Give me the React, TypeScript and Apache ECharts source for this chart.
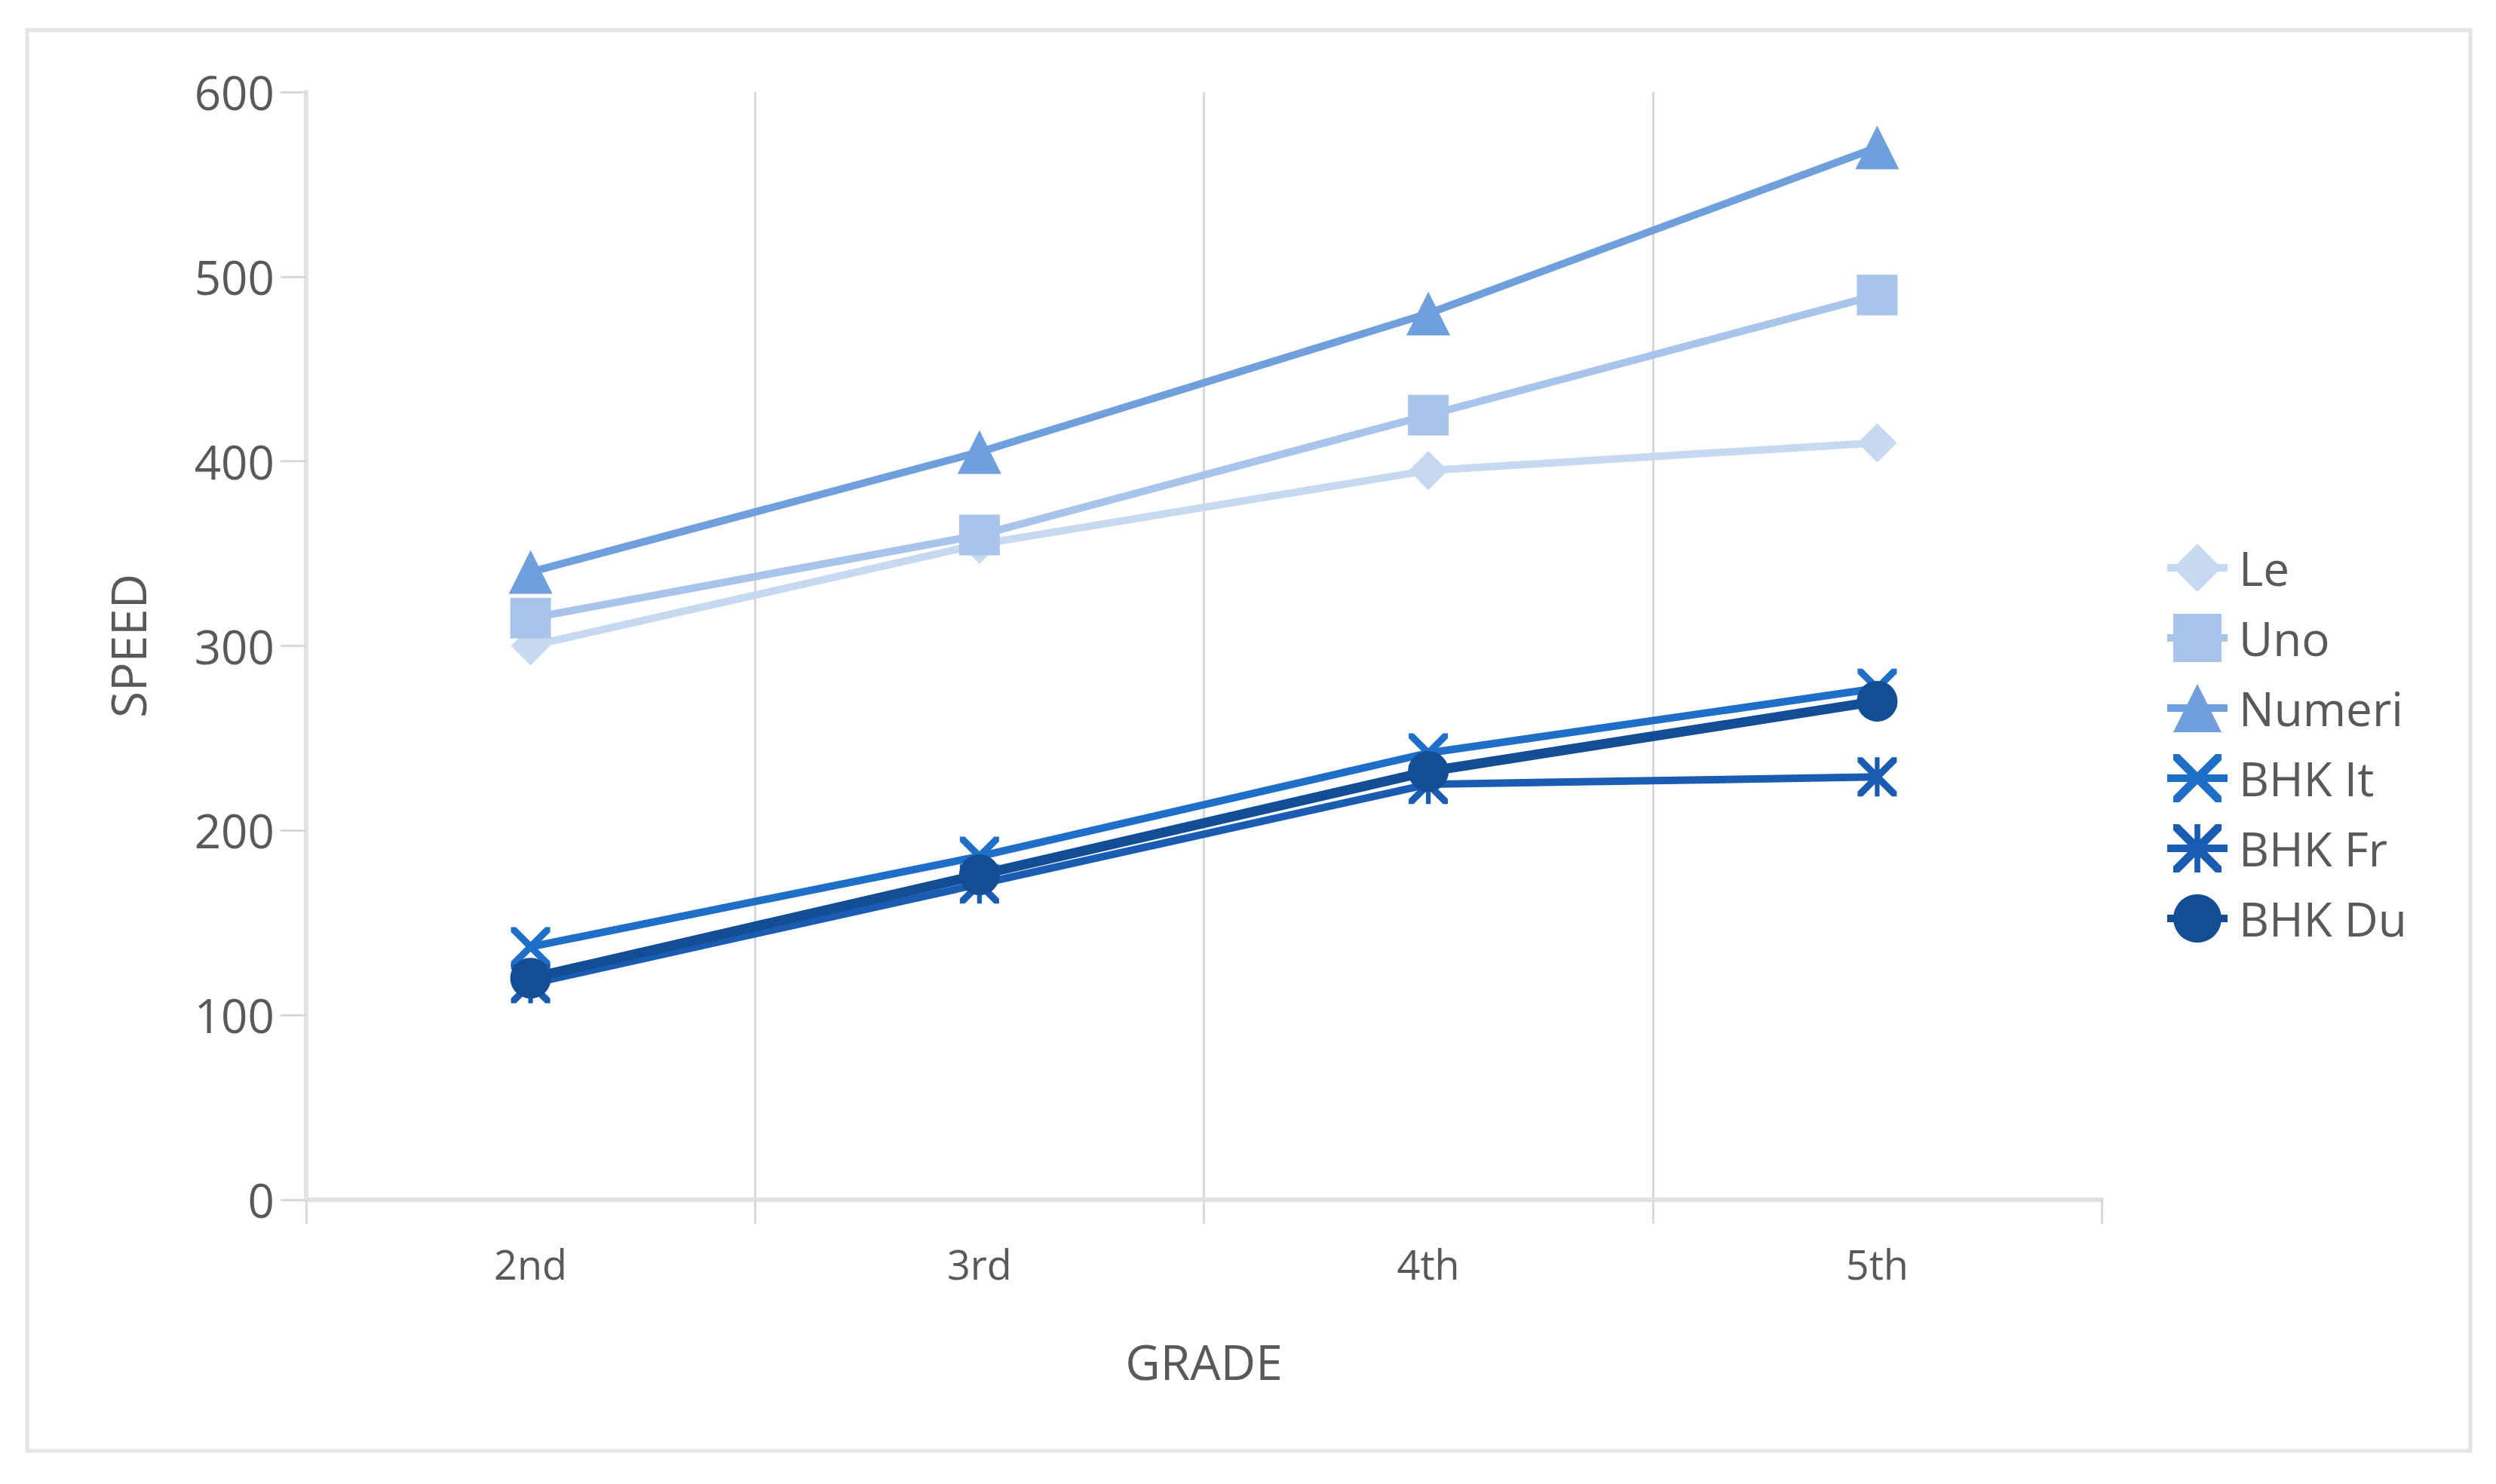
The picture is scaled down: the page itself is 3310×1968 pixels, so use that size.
import React, { useEffect, useRef } from "react";
import * as echarts from "echarts";

const grades = ["2nd", "3rd", "4th", "5th"];
const seriesNames = ["Le", "Uno", "Numeri", "BHK It", "BHK Fr", "BHK Du"];
const leValues = [300, 355, 395, 410];
const unoValues = [315, 360, 425, 490];
const numeriValues = [340, 405, 480, 570];
const bhkItValues = [137, 186, 242, 277];
const bhkFrValues = [117, 171, 225, 229];
const bhkDuValues = [120, 176, 232, 270];
const yTicks = [0, 100, 200, 300, 400, 500, 600];

const xPath =
  "path://M0,0 L2.5,0 L10,7.5 L17.5,0 L20,0 L20,2.5 L12.5,10 L20,17.5 L20,20 L17.5,20 L10,12.5 L2.5,20 L0,20 L0,17.5 L7.5,10 L0,2.5 Z";
const starPath =
  "path://M0,0 L2.5,0 L10,7.5 L17.5,0 L20,0 L20,2.5 L12.5,10 L20,17.5 L20,20 L17.5,20 L10,12.5 L2.5,20 L0,20 L0,17.5 L7.5,10 L0,2.5 Z M8.8,0 L11.2,0 L11.2,20 L8.8,20 Z";

const TXT = "#595959";
const FONT = "'Open Sans', 'Noto Sans', sans-serif";

export default function App() {
  const ref = useRef<HTMLDivElement>(null);
  useEffect(() => {
    if (!ref.current) return;
    const chart = echarts.init(ref.current, null, { renderer: "svg" });
    const mk = (
      name: string,
      data: number[],
      color: string,
      symbol: string,
      size: number | number[],
      width: number
    ) => ({
      name,
      type: "line",
      data,
      symbol,
      symbolSize: size,
      showAllSymbol: true,
      lineStyle: { color, width },
      itemStyle: { color, opacity: 1 },
      emphasis: { disabled: true },
    });
    chart.setOption({
      animation: false,
      backgroundColor: "#ffffff",
      graphic: [
        {
          type: "rect",
          shape: { x: 36, y: 40, width: 3240, height: 1884 },
          style: { fill: "none", stroke: "#e4e4e4", lineWidth: 5 },
          silent: true,
        },
      ],
      grid: { left: 406, right: 523, top: 122, bottom: 377 },
      legend: {
        orient: "vertical",
        left: 2864,
        top: 716,
        itemWidth: 80,
        itemHeight: 80,
        itemGap: 29,
        data: seriesNames,
        lineStyle: { width: 10 },
        textStyle: {
          color: TXT,
          fontSize: 62,
          fontFamily: FONT,
          padding: [0, 0, 0, 10],
        },
      },
      xAxis: {
        type: "category",
        data: grades,
        boundaryGap: true,
        name: "GRADE",
        nameLocation: "middle",
        nameGap: 182,
        nameTextStyle: { color: TXT, fontSize: 64, fontFamily: FONT },
        axisLine: { show: true, lineStyle: { color: "#e2e2e2", width: 6 } },
        axisTick: {
          show: true,
          length: 32,
          alignWithLabel: false,
          lineStyle: { color: "#d9d9d9", width: 3 },
        },
        axisLabel: { color: TXT, fontSize: 54, fontFamily: FONT, margin: 58 },
        splitLine: {
          show: true,
          showMinLine: false,
          showMaxLine: false,
          lineStyle: { color: "#d9d9d9", width: 3 },
        },
      },
      yAxis: {
        type: "value",
        min: yTicks[0],
        max: yTicks[yTicks.length - 1],
        interval: 100,
        name: "SPEED",
        nameLocation: "middle",
        nameGap: 205,
        nameTextStyle: { color: TXT, fontSize: 64, fontFamily: FONT },
        axisLine: { show: true, lineStyle: { color: "#e2e2e2", width: 6 } },
        axisTick: { show: true, length: 34, lineStyle: { color: "#d9d9d9", width: 3 } },
        axisLabel: { color: TXT, fontSize: 62, fontFamily: FONT, margin: 42 },
        splitLine: { show: false },
      },
      series: [
        mk(seriesNames[0], leValues, "#c6d9f1", "diamond", 52, 10),
        mk(seriesNames[1], unoValues, "#a9c4ea", "rect", 54, 10),
        mk(seriesNames[2], numeriValues, "#6f9fdc", "triangle", 58, 10),
        mk(seriesNames[3], bhkItValues, "#1f6fc8", xPath, 52, 10),
        mk(seriesNames[4], bhkFrValues, "#1b5cb3", starPath, 52, 10),
        mk(seriesNames[5], bhkDuValues, "#124d96", "circle", 54, 13),
      ],
    });
    return () => chart.dispose();
  }, []);
  return (
    <div
      ref={ref}
      style={{ position: "fixed", left: 0, top: 0, width: 3310, height: 1968 }}
    />
  );
}
